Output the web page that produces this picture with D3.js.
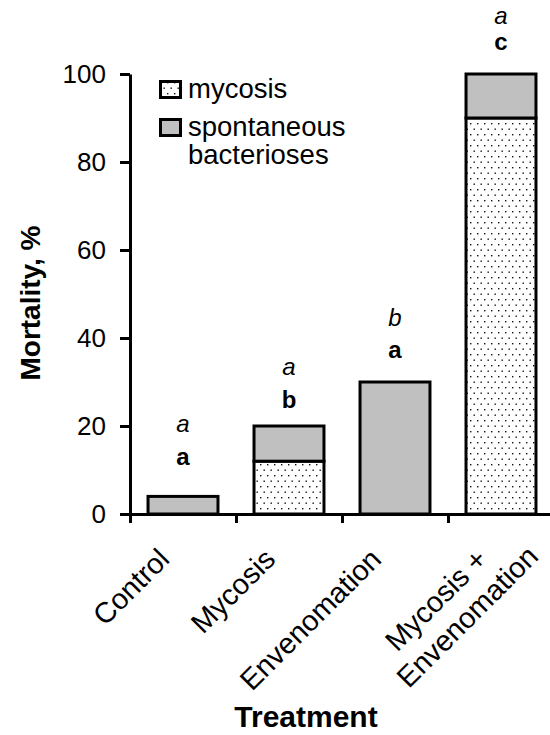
<!DOCTYPE html>
<html>
<head>
<meta charset="utf-8">
<script src="https://cdn.jsdelivr.net/npm/d3@7"></script>
<style>
  body { margin: 0; background: #fff; }
  svg { display: block; font-family: Arial, "Liberation Sans", sans-serif; }
</style>
</head>
<body>
<div id="chart"></div>
<script>
// data
const categories = ["Control", "Mycosis", "Envenomation", "Mycosis +\nEnvenomation"];
const mycosis = [0, 12, 0, 90];
const bacterioses = [4, 8, 30, 10];
const boldLetters = ["a", "b", "a", "c"];
const italicLetters = ["a", "a", "b", "a"];
const boldLetterY = [11.1, 24.1, 35.5, 105.5];
const italicLetterY = [18.6, 31.6, 42.7, 111.3];
const yTicks = [0, 20, 40, 60, 80, 100];
const seriesNames = ["mycosis", "spontaneous\nbacterioses"];

const W = 550, H = 735;
const LEFT = 130, RIGHT = 554, TOP = 74, BOTTOM = 514;

const svg = d3.select("#chart").append("svg")
  .attr("width", W).attr("height", H);

const defs = svg.append("defs");
const pat = defs.append("pattern")
  .attr("id", "dots")
  .attr("patternUnits", "userSpaceOnUse")
  .attr("width", 7).attr("height", 11);
pat.append("rect").attr("width", 7).attr("height", 11).attr("fill", "#fff");
pat.append("rect").attr("x", 1).attr("y", 2).attr("width", 1.4).attr("height", 1.4).attr("fill", "#111");
pat.append("rect").attr("x", 4.5).attr("y", 7.5).attr("width", 1.4).attr("height", 1.4).attr("fill", "#111");

const y = d3.scaleLinear().domain([0, 100]).range([BOTTOM, TOP]);
const x = d3.scaleBand()
  .domain(categories)
  .range([LEFT, RIGHT])
  .paddingInner(0.34)
  .paddingOuter(0.17);
const xb = d3.scaleLinear().domain([0, categories.length]).range([LEFT, RIGHT]);

// stacked data
const rows = categories.map((c, i) => ({ cat: c, mycosis: mycosis[i], bact: bacterioses[i] }));
const stack = d3.stack().keys(["mycosis", "bact"])(rows);
const fills = ["url(#dots)", "#c0c0c0"];

stack.forEach((layer, k) => {
  svg.append("g").selectAll("rect")
    .data(layer.filter(d => d[1] - d[0] > 0))
    .join("rect")
      .attr("x", d => x(d.data.cat))
      .attr("width", x.bandwidth())
      .attr("y", d => y(d[1]))
      .attr("height", d => y(d[0]) - y(d[1]))
      .attr("fill", fills[k])
      .attr("stroke", "#000")
      .attr("stroke-width", 3);
});

// axes
const yAxis = svg.append("g")
  .attr("transform", `translate(${LEFT},0)`)
  .call(d3.axisLeft(y).tickValues(yTicks).tickSizeInner(10).tickSizeOuter(0).tickPadding(14));
yAxis.selectAll("text").attr("font-size", 26).attr("font-family", "Arial, 'Liberation Sans', sans-serif").attr("fill", "#000");

svg.append("g")
  .attr("transform", `translate(0,${BOTTOM})`)
  .call(d3.axisBottom(xb).tickValues(d3.range(categories.length + 1)).tickFormat("").tickSizeInner(9).tickSizeOuter(0));

svg.selectAll(".domain, .tick line").attr("stroke", "#000").attr("stroke-width", 3);

// category labels
categories.forEach(c => {
  const lines = c.split("\n");
  const cx = x(c) + x.bandwidth() / 2 - 12;
  const t = svg.append("text")
    .attr("transform", `translate(${cx},${BOTTOM + 47}) rotate(-45)`)
    .attr("text-anchor", "end")
    .attr("font-size", 29);
  lines.forEach((ln, j) => {
    t.append("tspan")
      .attr("x", j === 0 ? 0 : 38)
      .attr("dy", j === 0 ? 0 : 34)
      .text(ln);
  });
});

// significance letters
categories.forEach((c, i) => {
  const cx = x(c) + x.bandwidth() / 2;
  svg.append("text")
    .attr("x", cx).attr("y", y(boldLetterY[i]))
    .attr("text-anchor", "middle")
    .attr("font-size", 24)
    .attr("font-weight", "bold")
    .text(boldLetters[i]);
  svg.append("text")
    .attr("x", cx).attr("y", y(italicLetterY[i]))
    .attr("text-anchor", "middle")
    .attr("font-size", 24)
    .attr("font-style", "italic")
    .text(italicLetters[i]);
});

// axis titles
svg.append("text")
  .attr("transform", `translate(40,303) rotate(-90)`)
  .attr("text-anchor", "middle")
  .attr("font-size", 28)
  .attr("font-weight", "bold")
  .text("Mortality, %");

svg.append("text")
  .attr("x", 306).attr("y", 727)
  .attr("text-anchor", "middle")
  .attr("font-size", 30)
  .attr("font-weight", "bold")
  .text("Treatment");

// legend
const legend = svg.append("g").attr("transform", "translate(159,80)");
seriesNames.forEach((s, i) => {
  const g = legend.append("g").attr("transform", `translate(0,${i * 38})`);
  g.append("rect")
    .attr("x", 1.5).attr("y", 1.5)
    .attr("width", 20).attr("height", 16)
    .attr("fill", fills[i])
    .attr("stroke", "#000").attr("stroke-width", 3);
  const t = g.append("text")
    .attr("x", 29).attr("y", 18)
    .attr("font-size", 27.5);
  s.split("\n").forEach((ln, j) => {
    t.append("tspan").attr("x", 29).attr("dy", j === 0 ? 0 : 28).text(ln);
  });
});
</script>
</body>
</html>
